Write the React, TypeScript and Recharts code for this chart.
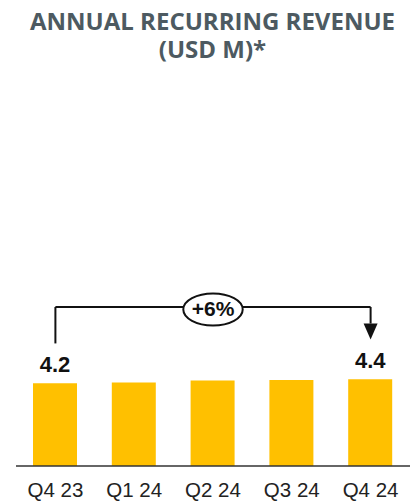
import React from 'react';
import { BarChart, Bar, XAxis, YAxis, LabelList, ReferenceLine, ReferenceDot } from 'recharts';

const categories = ['Q4 23', 'Q1 24', 'Q2 24', 'Q3 24', 'Q4 24'];
const arrValues = [4.2, 4.24, 4.34, 4.36, 4.4];
const valueLabels = ['4.2', '', '', '', '4.4'];
const titleLines = ['ANNUAL RECURRING REVENUE', '(USD M)*'];
const growthLabel = '+6%';

// annotation levels (in value units)
const bracketLevel = 8.07;
const leftStemBottom = 6.22;
const arrowLineEnd = 7.23;
const arrowTip = 6.42;
const bubbleLevel = 7.94;

const data = categories.map((c, i) => ({ name: c, value: arrValues[i], label: valueLabels[i] }));

const ValueLabel = (props: any) => {
  const { x, y, width, index } = props;
  const text = valueLabels[index];
  if (!text) return null;
  return (
    <text x={x + width / 2} y={y - 11} textAnchor="middle" fontFamily="'Liberation Sans', Arial, sans-serif" fontWeight="bold" fontSize={22} fill="#111">
      {text}
    </text>
  );
};

const ArrowHead = (props: any) => {
  const { cx, cy } = props;
  return <polygon points={`${cx - 7},${cy - 16} ${cx + 7},${cy - 16} ${cx},${cy}`} fill="#111" />;
};

const Bubble = (props: any) => {
  const { cx, cy } = props;
  return (
    <g>
      <ellipse cx={cx} cy={cy} rx={29.7} ry={16} fill="#fff" stroke="#111" strokeWidth={2} />
      <text x={cx} y={cy + 6.5} textAnchor="middle" fontFamily="'Liberation Sans', Arial, sans-serif" fontWeight="bold" fontSize={21} fill="#111">
        {growthLabel}
      </text>
    </g>
  );
};

export default function App() {
  return (
    <div style={{ position: 'absolute', left: 0, top: 0, width: 420, height: 501, background: '#fff' }}>
      <svg width={420} height={70} style={{ position: 'absolute', left: 0, top: 0 }}>
        {titleLines.map((t, i) => (
          <text
            key={t}
            x={212.5}
            y={30 + i * 28}
            textAnchor="middle"
            fontFamily="'Open Sans', sans-serif"
            fontWeight={700}
            fontSize={24}
            fill="#4d5a61"
          >
            {t}
          </text>
        ))}
      </svg>
      <div style={{ position: 'absolute', left: 0, top: 0 }}>
        <BarChart width={420} height={501} data={data} margin={{ top: 131, right: 10, bottom: 5, left: 16 }}>
          <XAxis
            dataKey="name"
            tickLine={false}
            tickSize={0}
            tickMargin={16}
            height={30}
            axisLine={{ stroke: '#333', strokeWidth: 1.5 }}
            tick={{ fill: '#222', fontSize: 20.5, fontFamily: "'Liberation Sans', Arial, sans-serif" }}
            interval={0}
          />
          <YAxis hide domain={[0, 17]} />
          <Bar dataKey="value" fill="#FFC000" barSize={44} isAnimationActive={false}>
            <LabelList dataKey="label" content={ValueLabel} />
          </Bar>
          <ReferenceLine
            segment={[
              { x: 'Q4 23', y: leftStemBottom },
              { x: 'Q4 23', y: bracketLevel },
            ]}
            stroke="#111"
            strokeWidth={2}
          />
          <ReferenceLine
            segment={[
              { x: 'Q4 23', y: bracketLevel },
              { x: 'Q4 24', y: bracketLevel },
            ]}
            stroke="#111"
            strokeWidth={2}
          />
          <ReferenceLine
            segment={[
              { x: 'Q4 24', y: bracketLevel },
              { x: 'Q4 24', y: arrowLineEnd },
            ]}
            stroke="#111"
            strokeWidth={2}
          />
          <ReferenceDot x="Q4 24" y={arrowTip} shape={ArrowHead} />
          <ReferenceDot x="Q2 24" y={bubbleLevel} shape={Bubble} />
        </BarChart>
      </div>
    </div>
  );
}
